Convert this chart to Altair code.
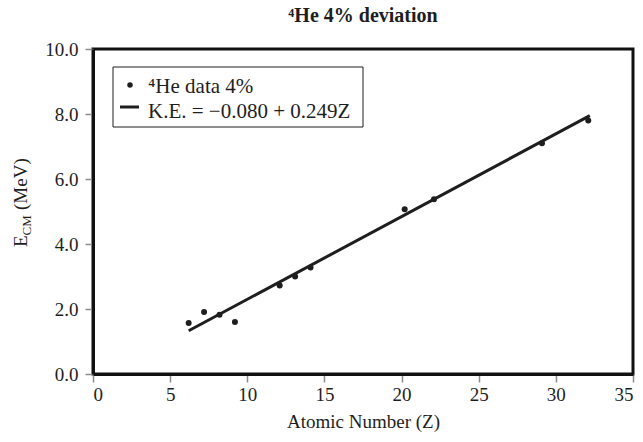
import altair as alt
import pandas as pd

# ---- data ----
atomic_number = [6.2, 7.2, 8.2, 9.2, 12.1, 13.1, 14.1, 20.2, 22.1, 29.1, 32.1]
energy_cm = [1.57, 1.91, 1.82, 1.60, 2.72, 3.00, 3.28, 5.07, 5.38, 7.10, 7.80]
fit_z = [6.2, 32.2]
fit_e = [1.33, 7.95]
legend_labels = ["\u2074He data 4%", "K.E. = \u22120.080 + 0.249Z"]
title_text = "\u2074He 4% deviation"
x_title = "Atomic Number (Z)"
y_title_parts = ["E", "CM", "(MeV)"]
x_ticks = [0, 5, 10, 15, 20, 25, 30, 35]
y_ticks = [0, 2, 4, 6, 8, 10]

FONT = "Liberation Serif"
INK = "#1e1e1e"
W, H = 540, 325

pts = pd.DataFrame({"z": atomic_number, "e": energy_cm})
fit = pd.DataFrame({"z": fit_z, "e": fit_e})
one = pd.DataFrame({"k": [0]})

x_scale = alt.Scale(domain=[0, 35], nice=False)
y_scale = alt.Scale(domain=[0, 10], nice=False)

common_axis = dict(grid=False, domain=True, domainColor="#111111", domainWidth=3,
                   tickColor="#8c8c8c", tickWidth=1.5,
                   tickSize=8, labelFont=FONT, labelFontSize=19, labelColor=INK,
                   titleFont=FONT, titleFontSize=19, titleFontWeight="normal",
                   titleColor=INK)
x_axis = alt.Axis(values=x_ticks, title=x_title, format="d", labelPadding=3,
                  titlePadding=8, **common_axis)
y_axis = alt.Axis(values=y_ticks, title=None, format=".1f", labelPadding=7,
                  **common_axis)

points = alt.Chart(pts).mark_circle(size=36, color=INK, opacity=1).encode(
    x=alt.X("z:Q", scale=x_scale, axis=x_axis),
    y=alt.Y("e:Q", scale=y_scale, axis=y_axis),
)
line = alt.Chart(fit).mark_line(color=INK, strokeWidth=3).encode(
    x=alt.X("z:Q", scale=x_scale),
    y=alt.Y("e:Q", scale=y_scale),
)

# ---- legend box ----
box = alt.Chart(one).mark_rect(fill="white", stroke=INK, strokeWidth=1).encode(
    x=alt.value(20), x2=alt.value(270), y=alt.value(18), y2=alt.value(78))
leg_dot = alt.Chart(one).mark_circle(size=30, color=INK, opacity=1).encode(
    x=alt.value(37), y=alt.value(36))
leg_line = alt.Chart(one).mark_rule(color=INK, strokeWidth=3).encode(
    x=alt.value(27), x2=alt.value(46), y=alt.value(58))
leg_df1 = pd.DataFrame({"t": [legend_labels[0]]})
leg_df2 = pd.DataFrame({"t": [legend_labels[1]]})
leg_t1 = alt.Chart(leg_df1).mark_text(align="left", baseline="alphabetic", font=FONT,
                                      fontSize=21, color=INK).encode(
    x=alt.value(55), y=alt.value(44), text="t:N")
leg_t2 = alt.Chart(leg_df2).mark_text(align="left", baseline="alphabetic", font=FONT,
                                      fontSize=21, color=INK).encode(
    x=alt.value(55), y=alt.value(69), text="t:N")

# ---- title ----
title = alt.Chart(pd.DataFrame({"t": [title_text]})).mark_text(
    align="center", baseline="alphabetic", font=FONT, fontSize=20,
    fontWeight="bold", color=INK).encode(
    x=alt.value(W / 2), y=alt.value(-27), text="t:N")

# ---- y-axis title with subscript ----
def ytxt(s, size, xpos, ypos):
    return alt.Chart(pd.DataFrame({"t": [s]})).mark_text(
        align="left", baseline="alphabetic", angle=270, font=FONT, fontSize=size,
        color=INK).encode(x=alt.value(xpos), y=alt.value(ypos), text="t:N")

y_e = ytxt(y_title_parts[0], 19, -66, 198)
y_cm = ytxt(y_title_parts[1], 13, -62, 186.4)
y_mev = ytxt(y_title_parts[2], 19, -66, 161)

chart = alt.layer(line, points, box, leg_dot, leg_line, leg_t1, leg_t2,
                  title, y_e, y_cm, y_mev).properties(
    width=W, height=H,
    autosize=alt.AutoSizeParams(type="none"),
    padding={"left": 93, "top": 49, "right": 10, "bottom": 68},
).configure_view(stroke="#111111", strokeWidth=3)

chart.save("out.html", embed_options={"renderer": "svg", "actions": False})
